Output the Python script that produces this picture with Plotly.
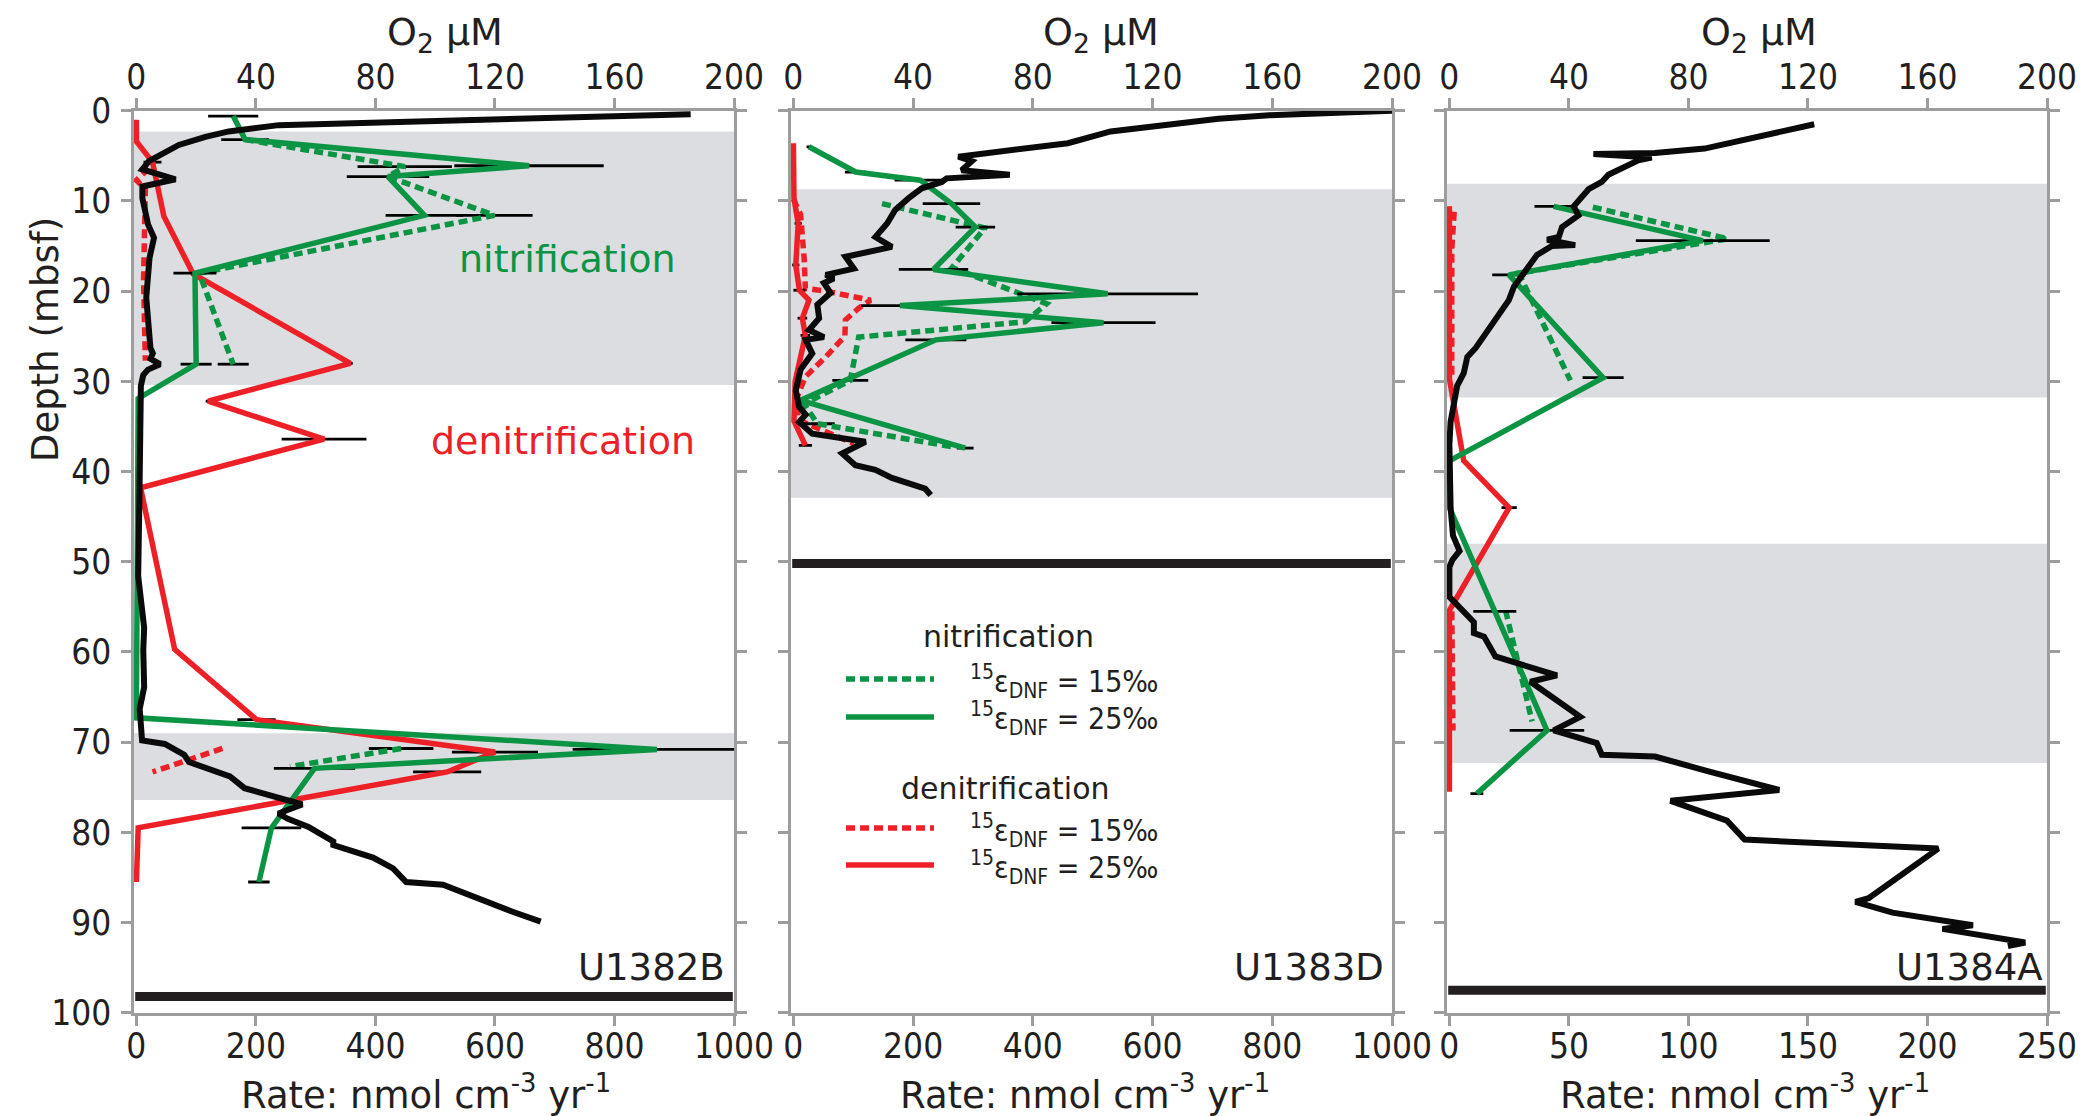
import plotly.graph_objects as go

W, H = 2086, 1116

# ---------------- data ----------------
sites = ["U1382B", "U1383D", "U1384A"]
rate_max = [1000, 1000, 250]
rate_step = [200, 200, 50]
o2_ticks = [0, 40, 80, 120, 160, 200]
depth_ticks = [0, 10, 20, 30, 40, 50, 60, 70, 80, 90, 100]

# --- U1382B ---
o2_depth_82 = [0.4, 0.8, 1.6, 2.3, 2.9, 3.8, 4.7, 5.6, 6.5, 7.6, 8.4, 9.7, 12.6, 14.1, 16.3, 20.7, 26.3, 26.9,
               27.5, 28.1, 28.7, 29.3, 30.5, 35.2, 43.2, 51.6, 57.3, 59.8, 63.9, 66.3, 69.8, 70.2, 70.8, 71.4,
               72.2, 72.8, 73.8, 75.1, 75.7, 76.5, 76.9, 77.9, 78.5, 79.4, 81.0, 81.4, 82.6, 82.8, 84.0, 85.5,
               85.8, 87.3, 88.4, 88.8, 89.9]
o2_82 = [185.5, 140, 47.6, 30.9, 23.1, 14.2, 8.7, 4.2, 2.0, 13.1, 2.0, 2.0, 3.9, 5.9, 4.4, 3.3, 4.7, 5.5,
         4.7, 7.9, 3.9, 2.3, 1.5, 1.5, 1.0, 0.6, 2.6, 2.3, 2.6, 1.1, 1.9, 9.5, 12.8, 16.0,
         17.6, 23.2, 31.3, 36.2, 42.6, 50.7, 55.5, 47.5, 50.7, 57.6, 65.9, 65.9, 76.4, 79.2, 85.9, 90.3,
         102.6, 113.7, 122.0, 125.9, 135.3]
nit25_depth_82 = [0.6, 3.2, 6.1, 7.3, 11.6, 18.0, 28.1, 31.9, 67.3, 70.8, 72.9, 79.5, 85.5]
nit25_82 = [162, 182, 657, 421, 482, 98, 100, 3, 0, 871, 298, 226, 205]
nit25_err_82 = [42, 40, 125, 69, 65, 36, 26, 0, 0, 141, 68, 50, 18]
nit15_depth_82 = [3.2, 6.2, 7.3, 11.6, 18.0, 28.1, None, 70.7, 72.7]
nit15_82 = [182, 449, 421, 599, 105, 162, None, 443, 257]
nit15_err_82 = [0, 79, 0, 64, 0, 26, 0, 54, 0]
den25_depth_82 = [1.0, 3.4, 5.7, 11.7, 18.1, 28.0, 32.2, 36.4, 41.8, 59.7, 67.5, 71.1, 73.3, 79.5, 85.5]
den25_82 = [0, 0, 27, 46, 95, 358, 120, 314, 7, 64, 201, 600, 520, 3, 0]
den25_err_82 = [0, 0, 15, 3, 0, 4, 4, 71, 0, 4, 32, 72, 57, 0, 0]
den15_depth_82 = [6.4, 7.7, 8.7, 13.0, 18.8, 27.7, None, 70.7, 73.3]
den15_82 = [21, 0, 15, 14, 12, 15, None, 144, 27]

# --- U1383D ---
o2_depth_83 = [0, 0.5, 0.9, 2.3, 3.6, 5.1, 5.6, 6.6, 7.1, 7.5, 7.9, 8.6, 9.7, 11.0, 12.5, 14.0, 15.1, 16.2,
               17.5, 18.2, 18.6, 19.1, 20.2, 21.5, 23.0, 24.3, 25.1, 25.4, 26.9, 28.7, 31.0, 32.8, 33.7, 34.5,
               35.8, 36.7, 38.0, 39.3, 39.8, 40.7, 41.9, 42.6]
o2_83 = [200, 159, 142, 106, 91.7, 55.1, 59.6, 56.2, 72.3, 51.2, 49.6, 42.9, 38.5, 34.0, 31.3, 27.4, 32.9, 17.4,
         20.2, 10.8, 13.5, 10.2, 12.4, 8.0, 8.6, 5.2, 10.2, 4.1, 6.3, 2.4, 0.8, 1.9, 4.1, 1.9,
         6.3, 24.1, 16.3, 20.7, 27.4, 32.9, 44.0, 45.9]
nit25_depth_83 = [4.0, 6.8, 7.7, 10.3, 12.9, 17.6, 20.3, 21.6, 23.5, 25.4, 32.1, 37.4]
nit25_83 = [26, 104, 212, 264, 304, 234, 525, 178, 518, 238, 12, 287]
nit25_err_83 = [4, 18, 43, 48, 33, 58, 151, 65, 87, 51, 0, 14]
nit15_depth_83 = [10.3, 13.0, 17.4, 21.4, 23.4, 25.1, 29.9, 32.5, 34.7, 37.3]
nit15_83 = [148, 320, 265, 423, 387, 109, 95, 18, 40, 270]
nit15_err_83 = [0, 0, 0, 0, 0, 0, 30, 0, 29, 0]
den25_depth_83 = [3.6, 9.7, 12.5, 17.1, 19.9, 21.0, 23.0, 24.9, 30.0, 34.4, 37.1]
den25_83 = [0, 1, 8, 4, 10, 26, 15, 20, 3, 1, 20]
den25_err_83 = [0, 0, 6, 6, 10, 0, 8, 8, 0, 0, 11]
den15_depth_83 = [9.8, 11.5, 16.4, 19.7, 20.0, 21.0, 21.9, 23.2, 25.0, 27.3, 29.5, 32.1, 34.3, 36.9]
den15_83 = [0, 12, 18, 20, 54, 129, 109, 87, 86, 54, 20, 4, 9, 101]

# --- U1384A ---
o2_depth_84 = [1.5, 2.0, 3.2, 4.2, 4.7, 4.8, 5.2, 5.5, 7.1, 7.9, 8.7, 9.9, 10.6, 11.6, 12.9, 14.0, 14.3, 14.9,
               15.0, 16.0, 18.0, 19.5, 21.0, 22.8, 24.7, 26.3, 27.3, 28.1, 29.1, 30.5, 32.1, 34.5, 37.0, 39.2,
               44.0, 47.1, 48.8, 49.8, 50.6, 53.9, 54.6, 56.7, 57.9, 58.3, 60.5, 62.6, 63.3, 67.2, 68.7, 70.1,
               71.4, 71.6, 73.2, 75.3, 76.5, 78.7, 80.8, 81.8, 87.3, 87.7, 88.9, 90.3, 90.7, 92.2, 92.6]
o2_84 = [122.1, 115.4, 97.7, 85.4, 68.8, 48.2, 67.7, 63.2, 53.2, 51.0, 46.6, 43.2, 41.6, 43.2, 37.7, 36.6, 32.7, 42.1,
         34.3, 29.3, 24.9, 21.6, 19.9, 16.0, 12.1, 8.8, 6.0, 5.5, 4.8, 2.6, 1.9, 0.4, 0, 0.1,
         0.4, 1.2, 3.4, 1.0, 0, 0, 2.1, 8.2, 8.2, 11.6, 15.4, 36.0, 27.1, 43.8, 34.9, 49.3,
         51.0, 68.8, 86.4, 110.4, 74.0, 92.9, 98.8, 163.6, 140.3, 135.9, 148.3, 175.2, 165.0, 192.7, 186.9]
nit25_depth_84 = [10.6, 14.4, 18.2, 29.6, 38.8, 44.0, 55.5, 68.7, 75.7]
nit25_84 = [43.6, 106, 24.9, 64.3, 0, 0, 19, 40.8, 11.5]
nit25_err_84 = [8, 28, 7, 8.6, 0, 0, 9, 15.6, 2.7]
nit15_depth_84 = [10.7, 14.2, 18.0, 29.9, None, 55.4, 67.7]
nit15_84 = [60, 116.5, 29, 50.6, None, 23.5, 34.6]
den25_depth_84 = [10.6, 19.4, 29.7, 38.8, 44.0, 55.4, 75.5]
den25_84 = [0, 0, 0, 6, 25, 0, 0]
den25_err_84 = [0, 0, 0, 0, 3.2, 0, 0]
den15_depth_84 = [11.2, 15.4, 29.5, None, 55.5, 68.7]
den15_84 = [2, 1, 1, None, 1, 1.5]

# shaded depth intervals and basement depth
band_top = [[2.3, 69.0], [8.7], [8.1, 48.0]]
band_bottom = [[30.4, 76.4], [42.9], [31.8, 72.3]]
basement_depth = [98.2, 50.2, 97.5]

# ---------------- style ----------------
GREEN = "#0b9444"
RED = "#ee2027"
BLACK = "#0a0a0a"
BAND = "#dcdde0"
AXIS = "#9d9d9d"
TEXT = "#231f20"
TICK_FAMILY = "DejaVu Sans Condensed, DejaVu Sans, sans-serif"
TEXT_FAMILY = "DejaVu Sans, Verdana, sans-serif"
DASH = "9px,5px"

panel_px = [(134, 734), (791, 1392), (1447, 2047)]
top_px, bottom_px = 110.7, 1012.8


def px(xp):
    return xp / W


def py(yp):
    return 1 - yp / H


panels = [
    dict(o2=(o2_depth_82, o2_82), n25=(nit25_depth_82, nit25_82, nit25_err_82),
         n15=(nit15_depth_82, nit15_82, nit15_err_82), d25=(den25_depth_82, den25_82, den25_err_82),
         d15=(den15_depth_82, den15_82, None)),
    dict(o2=(o2_depth_83, o2_83), n25=(nit25_depth_83, nit25_83, nit25_err_83),
         n15=(nit15_depth_83, nit15_83, nit15_err_83), d25=(den25_depth_83, den25_83, den25_err_83),
         d15=(den15_depth_83, den15_83, None)),
    dict(o2=(o2_depth_84, o2_84), n25=(nit25_depth_84, nit25_84, nit25_err_84),
         n15=(nit15_depth_84, nit15_84, None), d25=(den25_depth_84, den25_84, den25_err_84),
         d15=(den15_depth_84, den15_84, None)),
]

fig = go.Figure()


def add_line(depth, vals, xa, ya, color, width, dash="solid", err=None):
    tr = go.Scatter(x=vals, y=depth, xaxis=xa, yaxis=ya, mode="lines",
                    line=dict(color=color, width=width, dash=dash),
                    connectgaps=False, showlegend=False, hoverinfo="skip")
    if err is not None:
        tr.error_x = dict(type="data", array=err, symmetric=True, color="black",
                          thickness=2.8, width=0)
    fig.add_trace(tr)


common = dict(showline=True, linecolor=AXIS, linewidth=2.5, ticks="outside", ticklen=10,
              tickwidth=2.5, tickcolor=AXIS, showgrid=False, zeroline=False, automargin=False,
              tickfont=dict(family=TICK_FAMILY, size=35, color=TEXT))
ydom = [py(bottom_px), py(top_px)]
layout_axes = {}
shapes = []
for i, p in enumerate(panels):
    rate_id = "x" if i == 0 else f"x{2 * i + 1}"
    o2_id = f"x{2 * i + 2}"
    y_id = "y" if i == 0 else f"y{i + 1}"
    dom = [px(panel_px[i][0]), px(panel_px[i][1])]
    rmax = rate_max[i]
    layout_axes["xaxis" if i == 0 else f"xaxis{2 * i + 1}"] = dict(
        domain=dom, anchor=y_id, side="bottom", range=[-rmax * 0.004, rmax],
        tickvals=list(range(0, rmax + 1, rate_step[i])), ticklabelstandoff=-10, **common)
    layout_axes[f"xaxis{2 * i + 2}"] = dict(
        domain=dom, anchor=y_id, overlaying=rate_id, side="top", range=[-0.8, 200],
        tickvals=o2_ticks, ticklabelstandoff=-5, **common)
    layout_axes["yaxis" if i == 0 else f"yaxis{i + 1}"] = dict(
        domain=ydom, anchor=rate_id, range=[100, 0], tickvals=depth_ticks,
        showticklabels=(i == 0), mirror="ticks", ticklabelstandoff=3, **common)

    for t, b in zip(band_top[i], band_bottom[i]):
        shapes.append(dict(type="rect", xref=f"{rate_id} domain", yref=y_id, x0=0, x1=1, y0=t, y1=b,
                           fillcolor=BAND, line=dict(width=0), layer="below"))
    shapes.append(dict(type="rect", xref=f"{rate_id} domain", yref=y_id, x0=0.002, x1=0.998,
                       y0=basement_depth[i] - 0.5, y1=basement_depth[i] + 0.5,
                       fillcolor="#231f20", line=dict(width=0), layer="above"))

    d, v, e = p["d15"]
    add_line(d, v, rate_id, y_id, RED, 5.5, DASH, e)
    d, v, e = p["d25"]
    add_line(d, v, rate_id, y_id, RED, 5.5, "solid", e)
    d, v, e = p["n15"]
    add_line(d, v, rate_id, y_id, GREEN, 5.5, DASH, e)
    d, v, e = p["n25"]
    add_line(d, v, rate_id, y_id, GREEN, 5.5, "solid", e)
    d, v = p["o2"]
    add_line(d, v, o2_id, y_id, BLACK, 6)

annotations = []


def ann(text, x, y, size, color=TEXT, family=TEXT_FAMILY, xanchor="center", angle=0, yanchor="middle"):
    annotations.append(dict(text=text, x=px(x), y=py(y), xref="paper", yref="paper", showarrow=False,
                            xanchor=xanchor, yanchor=yanchor, textangle=angle,
                            font=dict(size=size, color=color, family=family)))


for cx in (445, 1101, 1759):
    ann("O<sub>2</sub> µM", cx, 34, 38)
for cx in (426, 1085, 1745):
    ann("Rate: nmol cm<sup>-3</sup> yr<sup>-1</sup>", cx, 1119, 37, yanchor="bottom")
for name, rx in zip(sites, (727, 1386, 2045)):
    ann(name, rx, 967, 37, xanchor="right")
ann("Depth (mbsf)", 45, 340, 37, angle=-90)
ann("nitrification", 567, 259, 38, color=GREEN)
ann("denitrification", 563, 441, 38, color=RED)

# manual legend in the middle panel
ann("nitrification", 1008, 636, 30)
ann("denitrification", 1005, 788, 30)
legend_rows = [(679, GREEN, DASH, "15"), (717, GREEN, "solid", "25"),
               (828, RED, DASH, "15"), (865, RED, "solid", "25")]
for yl, col, dsh, val in legend_rows:
    shapes.append(dict(type="line", xref="paper", yref="paper", x0=px(846), x1=px(934), y0=py(yl), y1=py(yl),
                       line=dict(color=col, width=5.5, dash=dsh)))
    ann(f"<sup>15</sup>ε<sub>DNF</sub> = {val}‰", 968, yl + 2, 30, family=TICK_FAMILY, xanchor="left")

fig.update_layout(template="none", width=W, height=H, margin=dict(l=0, r=0, t=0, b=0, autoexpand=False),
                  autosize=False, paper_bgcolor="white", plot_bgcolor="white", showlegend=False,
                  font=dict(family=TEXT_FAMILY, color=TEXT), shapes=shapes, annotations=annotations,
                  **layout_axes)

fig.write_html("out.html", config={"displayModeBar": False})
